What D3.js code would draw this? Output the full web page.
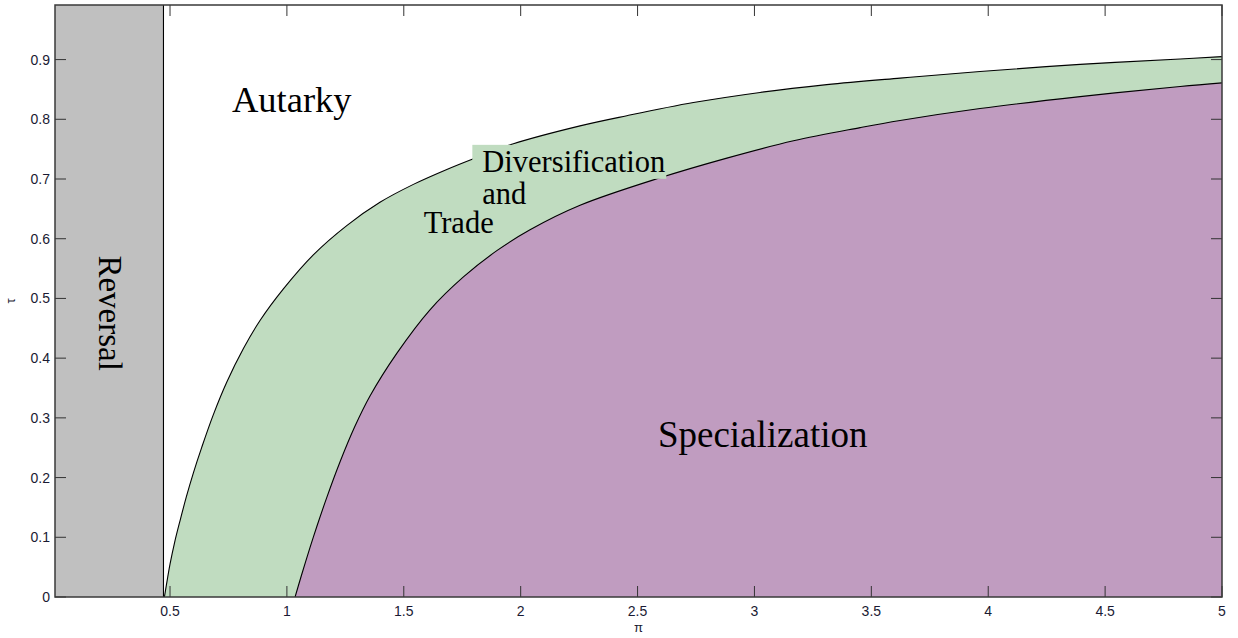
<!DOCTYPE html>
<html>
<head>
<meta charset="utf-8">
<script src="https://cdn.jsdelivr.net/npm/d3@7"></script>
<style>
  html, body { margin: 0; padding: 0; background: #fff; }
  svg { display: block; }
</style>
</head>
<body>
<svg id="chart" width="1238" height="638"></svg>
<script>
// ---- data ----
const piTicks = [0.5, 1, 1.5, 2, 2.5, 3, 3.5, 4, 4.5, 5];
const tauTicks = [0, 0.1, 0.2, 0.3, 0.4, 0.5, 0.6, 0.7, 0.8, 0.9];
const piDomain = [0.008, 5];
const tauDomain = [0, 0.9914];
const reversalPi = 0.472;

// boundary Autarky / Diversification and Trade
const upperPi  = [0.476, 0.490, 0.500, 0.520, 0.543, 0.570, 0.600, 0.636, 0.685, 0.743, 0.814, 0.885, 0.985, 1.113, 1.256, 1.398, 1.541, 1.684, 1.798, 1.969, 2.254, 2.454, 2.739, 3.024, 3.309, 3.623, 3.965, 4.393, 4.821, 5.0];
const upperTau = [0.000, 0.033, 0.055, 0.092, 0.128, 0.168, 0.208, 0.251, 0.305, 0.360, 0.416, 0.463, 0.516, 0.573, 0.622, 0.661, 0.691, 0.716, 0.734, 0.759, 0.789, 0.806, 0.828, 0.845, 0.858, 0.869, 0.880, 0.892, 0.901, 0.905];

// boundary Diversification and Trade / Specialization
const lowerPi  = [1.035, 1.062, 1.099, 1.128, 1.170, 1.227, 1.290, 1.356, 1.470, 1.612, 1.755, 1.898, 2.040, 2.254, 2.596, 2.882, 3.167, 3.452, 3.623, 3.965, 4.393, 4.821, 5.0];
const lowerTau = [0.000, 0.036, 0.083, 0.118, 0.166, 0.226, 0.285, 0.337, 0.408, 0.481, 0.536, 0.580, 0.615, 0.656, 0.702, 0.735, 0.764, 0.786, 0.798, 0.818, 0.838, 0.855, 0.861];

const regionNames = ["Autarky", "Diversification", "and", "Trade", "Specialization", "Reversal"];

// ---- layout ----
const svg = d3.select("#chart");
const pL = 55, pR = 1222, pT = 5, pB = 597;
const x = d3.scaleLinear().domain(piDomain).range([pL, pR]);
const y = d3.scaleLinear().domain(tauDomain).range([pB, pT]);

const colGrey = "#c0c0c0", colGreen = "#c0dcc0", colPurple = "#c09cc0";

const upper = upperPi.map((p, i) => [p, upperTau[i]]);
const lower = lowerPi.map((p, i) => [p, lowerTau[i]]);

svg.append("defs").append("clipPath").attr("id", "plotclip")
  .append("rect").attr("x", pL).attr("y", pT).attr("width", pR - pL).attr("height", pB - pT);

const plot = svg.append("g").attr("clip-path", "url(#plotclip)");

plot.append("rect").attr("x", pL).attr("y", pT).attr("width", pR - pL).attr("height", pB - pT).attr("fill", "#fff");
plot.append("rect").attr("x", x(piDomain[0])).attr("y", y(tauDomain[1]))
  .attr("width", x(reversalPi) - x(piDomain[0])).attr("height", y(0) - y(tauDomain[1])).attr("fill", colGrey);

const curve = d3.curveCatmullRom.alpha(0.5);
const area = d3.area().x(d => x(d[0])).y0(y(0)).y1(d => y(d[1])).curve(curve);
const line = d3.line().x(d => x(d[0])).y(d => y(d[1])).curve(curve);

plot.append("path").attr("d", area(upper)).attr("fill", colGreen);
plot.append("path").attr("d", area(lower)).attr("fill", colPurple);

plot.append("path").attr("d", line(upper)).attr("fill", "none").attr("stroke", "#000").attr("stroke-width", 1.1);
plot.append("path").attr("d", line(lower)).attr("fill", "none").attr("stroke", "#000").attr("stroke-width", 1.1);
plot.append("line").attr("x1", x(reversalPi)).attr("x2", x(reversalPi)).attr("y1", y(0)).attr("y2", y(tauDomain[1]))
  .attr("stroke", "#000").attr("stroke-width", 1.1);

// region labels
const serif = "'Liberation Serif', 'Times New Roman', serif";
const lab = svg.append("g").attr("font-family", serif).attr("fill", "#000");

lab.append("text").attr("x", x(0.765)).attr("y", y(0.812)).attr("font-size", 36.5).text(regionNames[0]);

const divBg = lab.append("rect").attr("fill", colGreen);
const divText = lab.append("text").attr("x", x(1.836)).attr("y", y(0.712)).attr("font-size", 30.5).text(regionNames[1]);
const bb = divText.node().getBBox();
divBg.attr("x", bb.x - 10).attr("y", bb.y).attr("width", bb.width + 11).attr("height", bb.height);

lab.append("text").attr("x", x(1.836)).attr("y", y(0.658)).attr("font-size", 30.5).text(regionNames[2]);
lab.append("text").attr("x", x(1.585)).attr("y", y(0.609)).attr("font-size", 30.5).text(regionNames[3]);
lab.append("text").attr("x", x(2.587)).attr("y", y(0.251)).attr("font-size", 37).text(regionNames[4]);
lab.append("text").attr("transform", `translate(${x(0.198)},${y(0.572)}) rotate(90)`).attr("font-size", 33).text(regionNames[5]);

// frame and ticks
const sans = "'Liberation Sans', Arial, sans-serif";
const frame = svg.append("g");
const tickLen = 11;
const tickCol = "#333";

piTicks.forEach(t => {
  frame.append("line").attr("x1", x(t)).attr("x2", x(t)).attr("y1", pB).attr("y2", pB - tickLen).attr("stroke", tickCol).attr("stroke-width", 1);
  frame.append("line").attr("x1", x(t)).attr("x2", x(t)).attr("y1", pT).attr("y2", pT + tickLen).attr("stroke", tickCol).attr("stroke-width", 1);
});
tauTicks.forEach(t => {
  frame.append("line").attr("x1", pL).attr("x2", pL + tickLen).attr("y1", y(t)).attr("y2", y(t)).attr("stroke", tickCol).attr("stroke-width", 1);
  frame.append("line").attr("x1", pR).attr("x2", pR - tickLen).attr("y1", y(t)).attr("y2", y(t)).attr("stroke", tickCol).attr("stroke-width", 1);
});
frame.append("rect").attr("x", pL).attr("y", pT).attr("width", pR - pL).attr("height", pB - pT)
  .attr("fill", "none").attr("stroke", "#3a3a3a").attr("stroke-width", 1.5);

const labelCol = "#1a1a33";
const tl = svg.append("g").attr("font-family", sans).attr("font-size", 14).attr("fill", labelCol);
piTicks.forEach(t => {
  tl.append("text").attr("x", x(t)).attr("y", pB + 19).attr("text-anchor", "middle").text(d3.format("")(t));
});
tauTicks.forEach(t => {
  tl.append("text").attr("x", pL - 5).attr("y", y(t) + 5).attr("text-anchor", "end").text(d3.format("")(t));
});

// axis titles
tl.append("text").attr("x", (pL + pR) / 2).attr("y", 632).attr("text-anchor", "middle").attr("font-size", 13).text("π");
tl.append("text").attr("transform", `translate(15,${(pT + pB) / 2}) rotate(-90)`).attr("text-anchor", "middle").attr("font-size", 13).text("τ");
</script>
</body>
</html>
